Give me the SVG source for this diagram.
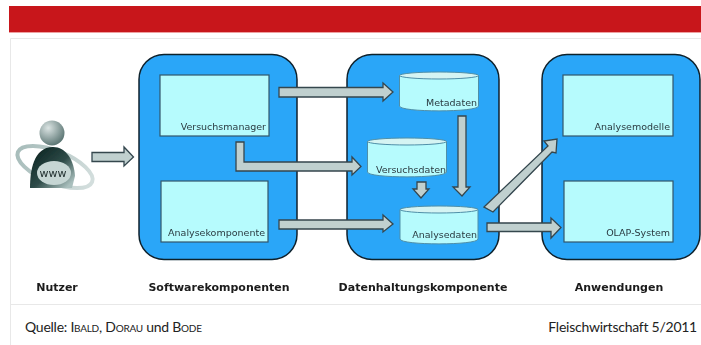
<svg xmlns="http://www.w3.org/2000/svg" width="701" height="345" viewBox="0 0 701 345">
<defs>
<radialGradient id="head" cx="0.35" cy="0.3" r="0.8"><stop offset="0" stop-color="#dbe4e3"/><stop offset="1" stop-color="#4f6b69"/></radialGradient>
<linearGradient id="body" x1="0.1" y1="0.1" x2="0.9" y2="0.9"><stop offset="0" stop-color="#0d2523"/><stop offset="0.55" stop-color="#2f4c49"/><stop offset="1" stop-color="#a9bfbd"/></linearGradient>
<linearGradient id="ring" x1="0" y1="0" x2="1" y2="0"><stop offset="0" stop-color="#a8bdbb"/><stop offset="1" stop-color="#d3dedd"/></linearGradient>
<filter id="soft" x="-2%" y="-2%" width="104%" height="104%"><feGaussianBlur stdDeviation="0.45"/></filter>
</defs>
<style>
.panel{fill:#2ba6f8;stroke:#10202c;stroke-width:1.5}
.box{fill:#b6fbfd;stroke:#31566b;stroke-width:1.2}
.cyl{fill:#b6fbfd;stroke:#4f8fa8;stroke-width:1}
.top{fill:#d5f4f3;stroke:#4f8fa8;stroke-width:1}
.arrow{fill:#c0d0cf;stroke:#34464e;stroke-width:1.3;stroke-linejoin:miter}
text{font-family:"DejaVu Sans",sans-serif}
.lbl{font-size:9.5px;fill:#2a3a40}
.hd{font-size:11px;font-weight:bold;fill:#1a1a1a}
.ft{font-family:"Lato",sans-serif;font-size:14px;fill:#222;letter-spacing:-0.25px}
.sc{font-size:10px}
</style>
<rect x="9" y="6" width="692" height="26" fill="#c8161b"/>
<rect x="9" y="32" width="692" height="1" fill="#eea0a0"/>
<g fill="none" stroke="#e8e8e8" stroke-width="1">
<path d="M701 38.500H10.500V345"/>
<path d="M11 304.500H701"/>
</g>
<g filter="url(#soft)">
<g id="nutzer">
<ellipse cx="55" cy="167" rx="40" ry="16" transform="rotate(22 55 167)" fill="none" stroke="url(#ring)" stroke-width="4"/>
<path d="M30 188C30 172 33 147 53 147C66 147 74 160 75 176L72 188Z" fill="url(#body)"/>
<ellipse cx="54" cy="173" rx="17" ry="12" fill="#c6d6d4"/>
<circle cx="52" cy="133" r="12.500" fill="url(#head)"/>
<text x="53" y="177" font-size="11" text-anchor="middle" fill="#1c2a2a">www</text>
<text class="hd" x="57" y="291" text-anchor="middle">Nutzer</text>
</g>
<g id="softwarekomponenten">
<rect class="panel" x="139" y="54.500" width="158" height="205" rx="25"/>
<text class="hd" x="219" y="291" text-anchor="middle">Softwarekomponenten</text>
</g>
<g id="versuchsmanager"><rect class="box" x="160" y="75" width="109" height="61"/><text class="lbl" x="266" y="130" text-anchor="end">Versuchsmanager</text></g>
<g id="analysekomponente"><rect class="box" x="161" y="181" width="107" height="61"/><text class="lbl" x="265" y="236" text-anchor="end">Analysekomponente</text></g>
<g id="datenhaltung">
<rect class="panel" x="347" y="54.500" width="152" height="205" rx="25"/>
<text class="hd" x="423" y="291" text-anchor="middle">Datenhaltungskomponente</text>
</g>
<g id="metadaten"><path class="cyl" d="M399.500 75.500V106C399.500 112.500 478.500 112.500 478.500 106V75.500Z"/><ellipse class="top" cx="439" cy="75.500" rx="39.500" ry="3.500"/><text class="lbl" x="477" y="106" text-anchor="end">Metadaten</text></g>
<g id="versuchsdaten"><path class="cyl" d="M367.500 141.500V172C367.500 178.500 446.500 178.500 446.500 172V141.500Z"/><ellipse class="top" cx="407" cy="141.500" rx="39.500" ry="3.500"/><text class="lbl" x="446" y="173" text-anchor="end">Versuchsdaten</text></g>
<g id="analysedaten"><path class="cyl" d="M400 209.500V239C400 245.500 478 245.500 478 239V209.500Z"/><ellipse class="top" cx="439" cy="209.500" rx="39" ry="3.500"/><text class="lbl" x="477" y="238" text-anchor="end">Analysedaten</text></g>
<g id="anwendungen">
<rect class="panel" x="542" y="54.500" width="158" height="205" rx="25"/>
<text class="hd" x="619" y="291" text-anchor="middle">Anwendungen</text>
</g>
<g id="analysemodelle"><rect class="box" x="563" y="75" width="110" height="61"/><text class="lbl" x="670" y="130" text-anchor="end">Analysemodelle</text></g>
<g id="olap"><rect class="box" x="564" y="181" width="109" height="61"/><text class="lbl" x="670" y="236" text-anchor="end">OLAP-System</text></g>
<g id="connectors" class="arrow">
<path d="M92 152.500H124V147L133.500 157L124 166V161.500H92Z"/>
<path d="M279 87.500H383V83L393 92L383 101V97H279Z"/>
<path d="M236 142H244V162H352V157L361 166.500L352 175V171H236Z"/>
<path d="M279 220H383V215L393 224L383 232V229H279Z"/>
<path d="M458 116H466V187H470L462 196L453 187H458Z"/>
<path d="M417 182H426V189H429L421 198L413 189H417Z"/>
<path d="M484 207L548 146L544 141L557 139L556 153L552 152L493 212Z"/>
<path d="M487 223H551V218L561 227.500L551 238V231.500H487Z"/>
</g>
</g>
<text class="ft" x="25" y="332">Quelle: I<tspan class="sc">BALD</tspan>, D<tspan class="sc">ORAU</tspan> und B<tspan class="sc">ODE</tspan></text>
<text class="ft" x="697" y="332" text-anchor="end">Fleischwirtschaft 5/2011</text>
</svg>
